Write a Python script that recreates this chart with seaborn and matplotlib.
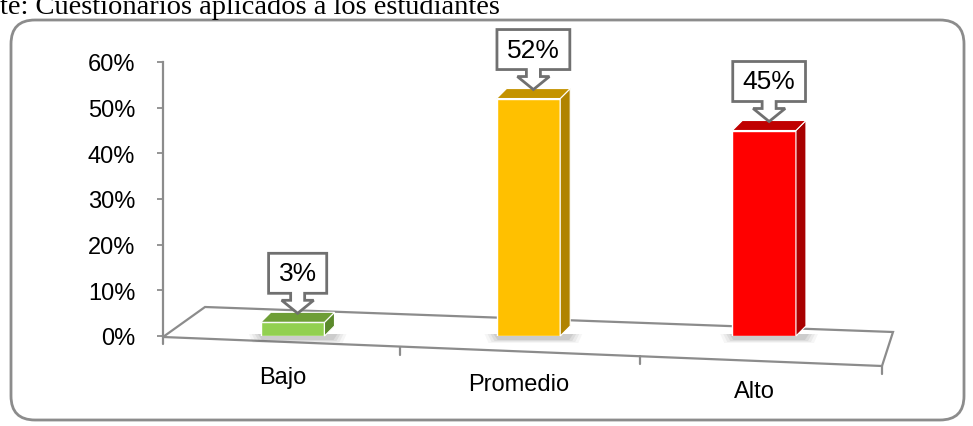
import matplotlib
matplotlib.use("Agg")
import matplotlib.pyplot as plt
import seaborn as sns
import numpy as np
from matplotlib.patches import Polygon, FancyBboxPatch, Rectangle
from matplotlib.lines import Line2D
from matplotlib.transforms import IdentityTransform
from matplotlib.ticker import PercentFormatter

categories = ["Bajo", "Promedio", "Alto"]
values = [0.03, 0.52, 0.45]
value_labels = ["3%", "52%", "45%"]
front_colors = ["#92D050", "#FFC000", "#FF0000"]
top_colors = ["#6E9E36", "#C49300", "#C00000"]
side_colors = ["#5B8A2B", "#B08300", "#A80000"]
label_y = [-0.150, -0.175, -0.200]
yticks = [0, 0.1, 0.2, 0.3, 0.4, 0.5, 0.6]
title_text = "te: Cuestionarios aplicados a los estudiantes"

sns.set_theme(style="white")
plt.rcParams["font.family"] = ["Liberation Sans", "DejaVu Sans"]

W, H = 973, 427
fig = plt.figure(figsize=(W / 100, H / 100), dpi=100)
ax = fig.add_axes([163 / W, (H - 337) / H, (882 - 163) / W, 274 / H])
ident = IdentityTransform()

sns.barplot(x=categories, y=values, hue=categories, palette=front_colors,
            width=0.27, legend=False, ax=ax, edgecolor="white", linewidth=1.0,
            saturation=1, zorder=3)
bars = [p for p in ax.patches if isinstance(p, Rectangle)]

ax.set_ylim(0, 0.6)
ax.set_xlim(-0.55, 2.5)
ax.set_yticks(yticks)
ax.yaxis.set_major_formatter(PercentFormatter(1.0, decimals=0))
ax.tick_params(axis="y", which="major", left=True, length=4, width=1.3,
               color="#8C8C8C", pad=16, labelsize=17, labelcolor="#000000")
ax.set_xticks([])
ax.set_xlabel("")
ax.set_ylabel("")
for s in ["top", "right", "bottom"]:
    ax.spines[s].set_visible(False)
ax.spines["left"].set_color("#8C8C8C")
ax.spines["left"].set_linewidth(1.6)
ax.spines["left"].set_zorder(5)
ax.patch.set_alpha(0)


def to_pix(x, y):
    return ax.transData.transform((x, y))


def fp(x, y):
    return (x, H - y)


def add(p):
    p.set_transform(ident)
    p.set_clip_on(False)
    ax.add_artist(p)


# floor (perspective plane)
add(Polygon([fp(163, 338), fp(205, 308), fp(893, 333), fp(882, 367)],
            closed=True, facecolor="white", edgecolor="#8C8C8C",
            linewidth=1.6, zorder=1))
for xb in [400, 640, 882]:
    yb = 338 + (xb - 163) * (367 - 338) / (882 - 163)
    add(Line2D([xb, xb], [H - yb, H - yb - 8], color="#8C8C8C", linewidth=1.6,
               zorder=1))
add(Line2D([163, 163], [H - 337, H - 345], color="#8C8C8C", linewidth=1.6,
           zorder=1))

dx, dy = 10, 10
renderer = fig.canvas.get_renderer()
for i, bar in enumerate(bars):
    x0 = bar.get_x()
    x1 = x0 + bar.get_width()
    yv = values[i]
    (px0, py0) = to_pix(x0, 0)
    (px1, py1) = to_pix(x1, yv)
    # soft shadow at the base
    for k, a in enumerate([0.05, 0.07, 0.09, 0.11]):
        g = 12 - 3 * k
        add(Polygon([(px0 - g, py0 + 2), (px1 + dx + g, py0 + 2),
                     (px1 + dx + g - 4, py0 - 7 + k), (px0 - g + 4, py0 - 7 + k)],
                    closed=True, facecolor="#505050", alpha=a, edgecolor="none",
                    zorder=2))
    add(Polygon([(px1, py0), (px1 + dx, py0 + dy), (px1 + dx, py1 + dy), (px1, py1)],
                closed=True, facecolor=side_colors[i], edgecolor="white",
                linewidth=0.8, zorder=4))
    add(Polygon([(px0, py1), (px0 + dx, py1 + dy), (px1 + dx, py1 + dy), (px1, py1)],
                closed=True, facecolor=top_colors[i], edgecolor="white",
                linewidth=0.8, zorder=4))

    # callout
    tx = (px0 + px1) / 2 + dx / 2
    ty = py1 + dy / 2 + 4
    t = fig.text(0, 0, value_labels[i], fontsize=19)
    ext = t.get_window_extent(renderer=renderer)
    t.remove()
    hw = (ext.width + 20) / 2
    verts = [(0, 0), (16, 13), (7, 13), (7, 20), (hw, 20), (hw, 60), (-hw, 60),
             (-hw, 20), (-7, 20), (-7, 13), (-16, 13)]
    add(Polygon([(tx + a, ty + b) for a, b in verts], closed=True,
                facecolor="white", edgecolor="#707070", linewidth=2.0, zorder=6))
    ax.text(tx, ty + 40, value_labels[i], fontsize=19, color="#000000",
            ha="center", va="center", transform=ident, zorder=7, clip_on=False)

    # category label
    ax.text(i - 0.04, label_y[i], categories[i], fontsize=17, color="#000000",
            ha="center", va="center", transform=ax.get_xaxis_transform(),
            clip_on=False)

# rounded border
border = FancyBboxPatch((11, H - 421), 953, 400,
                        boxstyle="round,pad=0,rounding_size=24",
                        facecolor="none", edgecolor="#8C8C8C", linewidth=2.0,
                        transform=None, zorder=0)
fig.patches.append(border)

fig.text(0, (H - 14) / H, title_text, fontsize=20.5, color="#000000",
         family=["Liberation Serif", "DejaVu Serif"], ha="left", va="baseline")

fig.savefig("out.png", dpi=100)
